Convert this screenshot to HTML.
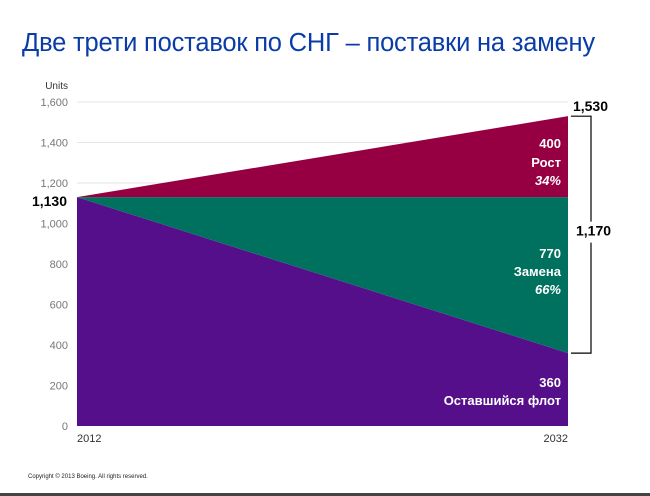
<!DOCTYPE html>
<html><head><meta charset="utf-8"><style>
html,body{margin:0;padding:0;background:#fff;}
body{width:650px;height:496px;overflow:hidden;position:relative;font-family:"Liberation Sans","DejaVu Sans",sans-serif;}
#title{position:absolute;left:22px;top:29px;font-size:25.5px;color:#0a3ca8;white-space:nowrap;letter-spacing:-0.2px;}
#copy{position:absolute;left:28px;top:474px;font-size:6px;color:#222;}
#rule{position:absolute;left:0;top:493px;width:650px;height:3px;background:#444;}
</style></head><body>
<div id="title">Две трети поставок по СНГ – поставки на замену</div>
<svg id="chart" width="650" height="496" style="position:absolute;left:0;top:0"></svg>
<div id="copy">Copyright © 2013 Boeing. All rights reserved.</div>
<div id="rule"></div>
<script>
const years=["2012","2032"];
const remaining=[1130,360];
const replacement=[0,770];
const growth=[0,400];
const yTicks=[0,200,400,600,800,1000,1200,1400,1600];
const yTickLabels=["0","200","400","600","800","1,000","1,200","1,400","1,600"];
const startLabel="1,130", endLabel="1,530", bracketLabel="1,170";

const NS="http://www.w3.org/2000/svg";
const svg=document.getElementById('chart');
const x0=77,x1=568,yBase=426,yTop=102;
const y=v=>yBase-(v/1600)*(yBase-yTop);
const x=i=>x0+i*(x1-x0)/(years.length-1);
function mk(t,a,p){const e=document.createElementNS(NS,t);for(const k in a)e.setAttribute(k,a[k]);(p||svg).appendChild(e);return e;}

yTicks.forEach((v,i)=>{
  if(v>0){const g=mk('line',{x1:x0,x2:x1,y1:y(v),y2:y(v),stroke:'#e6e6e6','stroke-width':1});
  
  }
  if(v===1130)return;
  const t=mk('text',{x:68,y:y(v)+4,'text-anchor':'end','font-size':11,fill:'#777'});
  t.textContent=yTickLabels[i];
  
  
});
const u=mk('text',{x:68,y:89,'text-anchor':'end','font-size':10,fill:'#333'});u.textContent='Units';



const s1=remaining.map((v,i)=>v), s2=remaining.map((v,i)=>v+replacement[i]), s3=s2.map((v,i)=>v+growth[i]);
function area(lo,hi,color,name){
  let d='M'+x(0)+','+y(hi[0]);
  for(let i=1;i<hi.length;i++)d+='L'+x(i)+','+y(hi[i]);
  for(let i=lo.length-1;i>=0;i--)d+='L'+x(i)+','+y(lo[i]);
  const p=mk('path',{d:d+'Z',fill:color});
  
  
}
area(s1.map(()=>0),s1,'#560f8a','area-remaining-fleet');
area(s1,s2,'#00705f','area-replacement');
area(s2,s3,'#960043','area-growth');

years.forEach((yr,i)=>{
  const t=mk('text',{x:i===0?x(i):x(i),y:442,'text-anchor':i===0?'start':'end','font-size':11,fill:'#333'});
  t.textContent=yr;
  
  
});

function lbl(tx,xx,yy,opt){const t=mk('text',Object.assign({x:xx,y:yy,'font-size':13,'font-weight':'bold',fill:'#fff','text-anchor':'end'},opt||{}));t.textContent=tx;return t;}
const L=x1-7, n=lastIdx=years.length-1;
let t;
t=lbl(startLabel,67,206,{fill:'#000','font-size':14});
t=lbl(endLabel,608,111,{fill:'#000','font-size':14,'text-anchor':'end'});
t=lbl(String(growth[n]),L,148);
t=lbl('Рост',L,167);
t=lbl('34%',L,185,{'font-style':'italic'});
t=lbl(String(replacement[n]),L,258);
t=lbl('Замена',L,276);
t=lbl('66%',L,294,{'font-style':'italic'});
t=lbl(String(remaining[n]),L,387);
t=lbl('Оставшийся флот',L,405);

const by1=y(s3[n]), by2=y(s1[n]), bm=(by1+by2)/2, bx=591;
const br=mk('path',{d:`M571,${by1}H${bx}V${bm-13}M${bx},${bm+8}V${by2}H571`,fill:'none',stroke:'#000','stroke-width':1.2});


t=lbl(bracketLabel,576,bm+1,{fill:'#000','font-size':14,'text-anchor':'start'});


</script>
</body></html>
